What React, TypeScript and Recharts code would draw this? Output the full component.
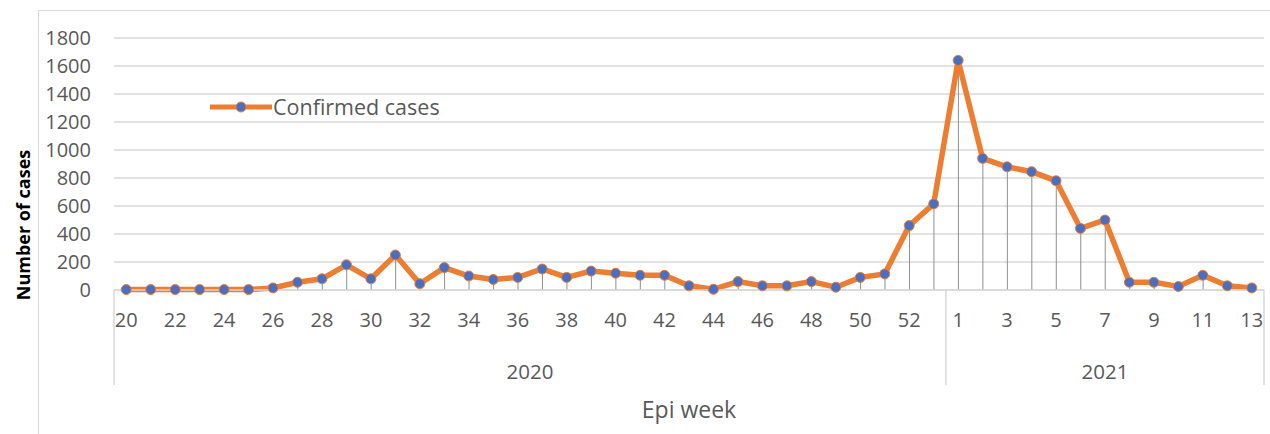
import React from 'react';
import { ComposedChart, Line, Bar, XAxis, YAxis, CartesianGrid, Legend } from 'recharts';

const weeks2020 = ['20','21','22','23','24','25','26','27','28','29','30','31','32','33','34','35','36','37','38','39','40','41','42','43','44','45','46','47','48','49','50','51','52','53'];
const cases2020 = [3,3,3,3,3,3,15,55,80,180,80,250,45,160,100,75,90,150,90,135,120,105,105,30,5,60,30,30,60,20,90,115,460,615];
const weeks2021 = ['1','2','3','4','5','6','7','8','9','10','11','12','13'];
const cases2021 = [1640,940,880,845,780,440,500,55,55,25,105,30,15];
const yearLabels = ['2020', '2021'];
const yTicks = [0,200,400,600,800,1000,1200,1400,1600,1800];

const data = [
  ...weeks2020.map((w, i) => ({ week: w, year: yearLabels[0], cases: cases2020[i] })),
  ...weeks2021.map((w, i) => ({ week: w, year: yearLabels[1], cases: cases2021[i] })),
];

const FONT = '"Open Sans", sans-serif';
const GREY = '#595959';
const ORANGE = '#ED7D31';
const BLUE = '#4a6fc0';
const PLOT_BOTTOM = 290;
const SEP_BOTTOM = 385;

const renderYearTick = (props: any) => {
  const { x, y, payload, index } = props;
  const i = payload && payload.index != null ? payload.index : index;
  const half = payload && payload.offset ? payload.offset : 1150 / data.length / 2;
  const bw = half * 2;
  const year = data[i].year;
  const isFirst = i === 0 || data[i - 1].year !== year;
  const isLast = i === data.length - 1 || data[i + 1].year !== year;
  const elems: any[] = [];
  if (isFirst) {
    elems.push(<line key="s" x1={x - half} x2={x - half} y1={PLOT_BOTTOM} y2={SEP_BOTTOM} stroke="#d9d9d9" strokeWidth={1.5} />);
  }
  if (i === data.length - 1) {
    elems.push(<line key="e" x1={x + half} x2={x + half} y1={PLOT_BOTTOM} y2={SEP_BOTTOM} stroke="#d9d9d9" strokeWidth={1.5} />);
  }
  if (isLast) {
    let start = i;
    while (start > 0 && data[start - 1].year === year) start--;
    const cx = x - ((i - start) / 2) * bw;
    elems.push(<text key="t" x={cx} y={y} dy="0.71em" textAnchor="middle" fill={GREY} fontSize={20.5} fontFamily={FONT}>{year}</text>);
  }
  return <g>{elems}</g>;
};

const renderLegend = () => (
  <div style={{ display: 'flex', alignItems: 'center', fontFamily: FONT, fontSize: 21.5, color: GREY }}>
    <svg width={62} height={14} style={{ display: 'block' }}>
      <line x1={0} y1={7} x2={62} y2={7} stroke={ORANGE} strokeWidth={5} />
      <circle cx={31} cy={7} r={5} fill={BLUE} stroke={ORANGE} strokeWidth={1} />
    </svg>
    <span style={{ marginLeft: 1 }}>Confirmed cases</span>
  </div>
);

const renderYLabel = (props: any) => {
  const vb = props.viewBox || { x: 34, y: 38, width: 80, height: 252 };
  const lx = vb.x - 11;
  const ly = vb.y + vb.height / 2 + 61;
  return (
    <text x={lx} y={ly} transform={`rotate(-90 ${lx} ${ly})`} textAnchor="middle" dominantBaseline="central" fontFamily={FONT} fontWeight="bold" fontSize={18} fill="#000">
      Number of cases
    </text>
  );
};

export default function App() {
  return (
    <div style={{ position: 'relative', width: 1270, height: 434, background: '#fff', fontFamily: FONT }}>
      <style>{'body{margin:0}'}</style>
      <div style={{ position: 'absolute', left: 38, top: 10, right: 0, bottom: 0, borderLeft: '1.5px solid #d9d9d9', borderTop: '1.5px solid #d9d9d9' }} />
      <ComposedChart width={1270} height={434} data={data} margin={{ top: 38, right: 6, left: 34, bottom: 0 }} style={{ position: 'absolute', left: 0, top: 0 }}>
        <CartesianGrid vertical={false} stroke="#d9d9d9" strokeWidth={1.5} />
        <XAxis dataKey="week" interval={1} tickLine={false} tickSize={0} tickMargin={23} height={50} axisLine={{ stroke: '#d9d9d9', strokeWidth: 1.5 }} tick={{ fill: GREY, fontSize: 20, fontFamily: FONT }} />
        <XAxis xAxisId="year" dataKey="year" interval={0} tickLine={false} tickSize={0} tickMargin={24} height={94} axisLine={false} tick={renderYearTick}
          label={{ value: 'Epi week', position: 'insideBottom', offset: 16, fill: GREY, fontSize: 23, fontFamily: FONT }} />
        <YAxis domain={[0, 1800]} ticks={yTicks} interval={0} width={80} tickLine={false} axisLine={false} tickSize={0} tickMargin={23} tick={{ fill: GREY, fontSize: 20, fontFamily: FONT }} label={renderYLabel} />
        <Legend content={renderLegend} layout="horizontal" verticalAlign="middle" align="center" wrapperStyle={{ left: 210, top: 92, width: 'auto' }} />
        <Bar dataKey="cases" barSize={1} fill="#8f8f8f" isAnimationActive={false} legendType="none" />
        <Line dataKey="cases" stroke={ORANGE} strokeWidth={5.5} dot={{ r: 5, fill: BLUE, stroke: ORANGE, strokeWidth: 1 }} activeDot={false} isAnimationActive={false} name="Confirmed cases" />
      </ComposedChart>
    </div>
  );
}
